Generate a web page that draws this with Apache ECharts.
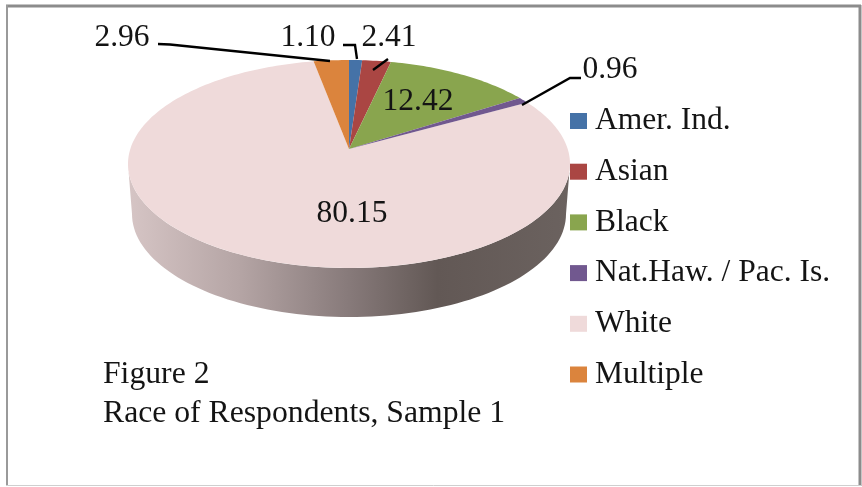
<!DOCTYPE html>
<html>
<head>
<meta charset="utf-8">
<style>html,body{margin:0;padding:0;background:#fff}#chart{width:862px;height:487px}</style>
<script src="https://cdn.jsdelivr.net/npm/echarts@6/dist/echarts.min.js"></script>
</head>
<body>
<div id="chart"></div>
<script>
// Race of respondents, percent of sample
const categories = ['Amer. Ind.', 'Asian', 'Black', 'Nat.Haw. / Pac. Is.', 'White', 'Multiple'];
const shares = [1.10, 2.41, 12.42, 0.96, 80.15, 2.96];
const colors = ['#4572a7', '#aa4643', '#89a54e', '#71588f', '#efdada', '#db843d'];

// Tilted disc: the unit circle is projected so its centre falls above the ellipse centre
const disc = { apexX: 349, apexY: 149, a: 218.7, b: 101.8, k: 0.144 };
const wall = { cx: 349, topY: 164, topRx: 221, topRy: 104, botY: 214, botRx: 217, botRy: 103 };

// Per-slice label placement and leader polyline
const labelLayout = [
  { x: 308, y: 38, line: [[343, 45], [355, 45], [357, 59]] },
  { x: 389, y: 38, line: [[388, 59], [373, 70]] },
  { x: 418, y: 102 },
  { x: 610, y: 70, line: [[581, 78], [570, 78], [522, 105]] },
  { x: 352, y: 214 },
  { x: 122, y: 38, line: [[158, 44], [170, 44.5], [330, 61]] }
];

const FONT = '"Liberation Serif", "Times New Roman", serif';
const TEXT = '#141414';

function project(angle) {
  const x = Math.sin(angle), y = -Math.cos(angle);
  const w = 1 - disc.k * y;
  return [disc.apexX + disc.a * x / w, disc.apexY + disc.b * y / w];
}

function wallPoints() {
  const pts = [], n = 90;
  for (let i = 0; i <= n; i++) {
    const p = Math.PI * i / n;
    pts.push([wall.cx - wall.topRx * Math.cos(p), wall.topY + wall.topRy * Math.sin(p)]);
  }
  for (let i = n; i >= 0; i--) {
    const p = Math.PI * i / n;
    pts.push([wall.cx - wall.botRx * Math.cos(p), wall.botY + wall.botRy * Math.sin(p)]);
  }
  return pts;
}

const total = shares.reduce((s, v) => s + v, 0);
let running = 0;
const series = categories.map((name, idx) => {
  const start = running;
  running += shares[idx];
  const isWhite = name === 'White';
  return {
    type: 'custom',
    name,
    coordinateSystem: 'none',
    z: isWhite ? 1 : 2,
    silent: true,
    itemStyle: { color: colors[idx] },
    data: [[shares[idx], start]],
    renderItem(params, api) {
      const value = api.value(0);
      const from = api.value(1) / total * Math.PI * 2;
      const to = (api.value(1) + value) / total * Math.PI * 2;
      const steps = Math.max(2, Math.ceil((to - from) / 0.02));
      const pts = [[disc.apexX, disc.apexY]];
      for (let i = 0; i <= steps; i++) pts.push(project(from + (to - from) * i / steps));
      const children = [];
      if (isWhite) {
        children.push({
          type: 'polygon',
          shape: { points: wallPoints() },
          style: {
            fill: {
              type: 'linear', x: 0, y: 0, x2: 1, y2: 0,
              colorStops: [
                { offset: 0, color: '#d6c5c5' },
                { offset: 0.25, color: '#b5a5a5' },
                { offset: 0.5, color: '#877a7a' },
                { offset: 0.7, color: '#625855' },
                { offset: 1, color: '#6b625f' }
              ]
            }
          }
        });
      }
      children.push({ type: 'polygon', shape: { points: pts }, style: { fill: colors[idx] } });
      const lay = labelLayout[idx];
      if (lay.line) {
        children.push({
          type: 'polyline',
          shape: { points: lay.line },
          style: { stroke: '#000', lineWidth: 2.4, fill: null }
        });
      }
      children.push({
        type: 'text',
        style: {
          x: lay.x, y: lay.y, text: value.toFixed(2),
          font: '31.5px ' + FONT, fill: TEXT, align: 'center', verticalAlign: 'middle'
        }
      });
      return { type: 'group', children };
    }
  };
});

const chart = echarts.init(document.getElementById('chart'), null, { renderer: 'canvas' });
chart.setOption({
  animation: false,
  backgroundColor: '#fff',
  title: {
    text: 'Figure 2\nRace of Respondents, Sample 1',
    left: 103, top: 355,
    padding: 0,
    textStyle: { fontFamily: FONT, fontSize: 31.7, fontWeight: 'normal', color: TEXT, lineHeight: 39 }
  },
  legend: {
    orient: 'vertical',
    left: 570, top: 105,
    padding: 0,
    selectedMode: false,
    icon: 'rect',
    itemWidth: 17, itemHeight: 16,
    itemGap: 18.7,
    data: categories,
    textStyle: { fontFamily: FONT, fontSize: 31.5, color: TEXT, padding: [3, 0, 0, 3], lineHeight: 29 }
  },
  graphic: [
    { type: 'line', silent: true, shape: { x1: 6, y1: 6, x2: 861, y2: 6 }, style: { stroke: '#8c8c8c', lineWidth: 3 } },
    { type: 'line', silent: true, shape: { x1: 7, y1: 5, x2: 7, y2: 486 }, style: { stroke: '#9a9a9a', lineWidth: 2 } },
    { type: 'line', silent: true, shape: { x1: 860, y1: 5, x2: 860, y2: 486 }, style: { stroke: '#8c8c8c', lineWidth: 3 } },
    { type: 'line', silent: true, shape: { x1: 6, y1: 485.5, x2: 861, y2: 485.5 }, style: { stroke: '#cfcfcf', lineWidth: 1 } }
  ],
  series
});
</script>
</body>
</html>
